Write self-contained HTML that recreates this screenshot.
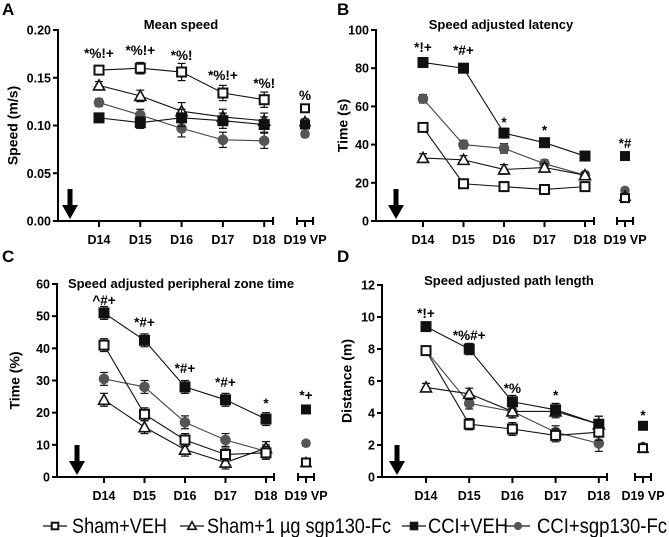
<!DOCTYPE html>
<html><head><meta charset="utf-8"><style>
html,body{margin:0;padding:0;background:#fff;}
svg{display:block;font-family:"Liberation Sans",Arial,sans-serif;}
</style></head><body>
<svg id="chart" width="669" height="537" viewBox="0 0 669 537" xmlns="http://www.w3.org/2000/svg"></svg>
<script>
// ---- data ----
const days = ["D14","D15","D16","D17","D18"];
const vpLabel = "D19 VP";
const groups = ["Sham+VEH","Sham+1 µg sgp130-Fc","CCI+VEH","CCI+sgp130-Fc"];
// Panel A mean speed (m/s): 5 days + D19
const aSham    = [0.158,0.160,0.156,0.134,0.127,0.118];
const aShamSgp = [0.142,0.131,0.115,0.109,0.105,0.104];
const aCci     = [0.108,0.103,0.108,0.105,0.101,0.101];
const aCciSgp  = [0.124,0.111,0.097,0.085,0.084,0.091];
const aErr     = [0.004,0.006,0.009,0.008,0.008,0.003];
const aTicks   = [0,0.05,0.10,0.15,0.20];
const aTickLabels = ["0.00","0.05","0.10","0.15","0.20"];
const aNotes   = ["*%!+","*%!+","*%!","*%!+","*%!","%"];
// Panel B latency (s)
const bSham    = [49,19.5,18,16.5,18,12];
const bShamSgp = [33,32,27,28,24,13];
const bCci     = [83,80,46,41,34,34];
const bCciSgp  = [64,40,38,30,24,16];
const bErr     = [2.2,2.2,2.5,2,1.5,1];
const bTicks   = [0,20,40,60,80,100];
const bTickLabels = ["0","20","40","60","80","100"];
const bNotes   = ["*!+","*#+","*","*","","*#"];
// Panel C peripheral zone time (%)
const cSham    = [41,19.5,11.5,7,7.5,4.5];
const cShamSgp = [24,15.5,8.5,4.5,9,4.5];
const cCci     = [51,42.5,28,24,18,21];
const cCciSgp  = [30.5,28,17,11.5,8,10.5];
const cErr     = [2,2,2,2,2,0.8];
const cTicks   = [0,10,20,30,40,50,60];
const cTickLabels = ["0","10","20","30","40","50","60"];
const cNotes   = ["^#+","*#+","*#+","*#+","*","*+"];
// Panel D path length (m)
const dSham    = [7.9,3.3,3.0,2.6,2.8,1.8];
const dShamSgp = [5.6,5.2,4.1,4.1,3.3,1.8];
const dCci     = [9.4,8.0,4.7,4.2,3.3,3.2];
const dCciSgp  = [7.9,4.6,4.1,2.8,2.1,1.9];
const dErr     = [0.25,0.35,0.4,0.4,0.5,0.15];
const dTicks   = [0,2,4,6,8,10,12];
const dTickLabels = ["0","2","4","6","8","10","12"];
const dNotes   = ["*!+","*%#+","*%","*","","*"];
const noteY = {
  A:[53,50,55,75,83,95], B:[47,50,122,130,0,143],
  C:[300,322,368,382,403,395], D:[313,335,388,395,0,415]
};

const NS="http://www.w3.org/2000/svg";
const svg=document.getElementById('chart');
function el(tag,attrs,parent,text){
  const e=document.createElementNS(NS,tag);
  for(const k in attrs) e.setAttribute(k,attrs[k]);
  if(text!==undefined) e.textContent=text;
  (parent||svg).appendChild(e);
  return e;
}

const panels=[
 {id:'A',letter:[2,15],title:"Mean speed",tx:181,ty:29,ylab:"Speed (m/s)",ylx:14,
  ax:58,top:30,bot:221,max:0.20,x0:99,dx:41.3,end:273,vx:305,arrow:70,
  ticks:aTicks,tl:aTickLabels,series:[aSham,aShamSgp,aCci,aCciSgp],err:aErr,notes:aNotes},
 {id:'B',letter:[337,15],title:"Speed adjusted latency",tx:501,ty:29,ylab:"Time (s)",ylx:344,
  ax:376,top:30,bot:221,max:100,x0:423,dx:40.5,end:594,vx:625,arrow:396,
  ticks:bTicks,tl:bTickLabels,series:[bSham,bShamSgp,bCci,bCciSgp],err:bErr,notes:bNotes},
 {id:'C',letter:[2,262],title:"Speed adjusted peripheral zone time",tx:181,ty:288,ylab:"Time (%)",ylx:16,
  ax:57,top:284,bot:477,max:60,x0:104,dx:40.5,end:274,vx:306,arrow:77,
  ticks:cTicks,tl:cTickLabels,series:[cSham,cShamSgp,cCci,cCciSgp],err:cErr,notes:cNotes},
 {id:'D',letter:[337,262],title:"Speed adjusted path length",tx:509,ty:285,ylab:"Distance (m)",ylx:348,
  ax:382,top:285,bot:477,max:12,x0:426,dx:43.2,end:607,vx:643,arrow:397,
  ticks:dTicks,tl:dTickLabels,series:[dSham,dShamSgp,dCci,dCciSgp],err:dErr,notes:dNotes},
];
const styles=[
 {shape:'sq',fill:'#fff',stroke:'#111'},
 {shape:'tri',fill:'#fff',stroke:'#111'},
 {shape:'sq',fill:'#111',stroke:'#111'},
 {shape:'ci',fill:'#555',stroke:'#555'},
];
function marker(g,s,x,y,r){
  if(s.shape==='sq') return el('rect',{x:x-r,y:y-r,width:2*r,height:2*r,fill:s.fill,stroke:s.stroke,'stroke-width':2},g);
  if(s.shape==='tri') return el('polygon',{points:`${x},${y-r-1} ${x-r-1},${y+r} ${x+r+1},${y+r}`,fill:s.fill,stroke:s.stroke,'stroke-width':1.6},g);
  return el('circle',{cx:x,cy:y,r:r+0.8,fill:s.fill},g);
}

panels.forEach(p=>{
  const g=el('g',{});
  
  
  const Y=v=>p.bot-(v/p.max)*(p.bot-p.top);
  const X=i=>i<5?p.x0+i*p.dx:p.vx;
  const lt=el('text',{x:p.letter[0],y:p.letter[1],'font-size':17,'font-weight':'bold'},g,p.id);
  
  
  const tt=el('text',{x:p.tx,y:p.ty,'font-size':13,'font-weight':'bold','text-anchor':'middle'},g,p.title);
  
  
  const yl=el('text',{x:p.ylx,y:(p.top+p.bot)/2,'font-size':14,'font-weight':'bold','text-anchor':'middle',transform:`rotate(-90 ${p.ylx} ${(p.top+p.bot)/2})`,'dominant-baseline':'middle'},g,p.ylab);
  
  
  const ya=el('line',{x1:p.ax,y1:p.top-1,x2:p.ax,y2:p.bot+1,stroke:'#000','stroke-width':2},g);
  
  
  const xa=el('line',{x1:p.ax,y1:p.bot,x2:p.end,y2:p.bot,stroke:'#000','stroke-width':2},g);
  
  
  el('line',{x1:p.end,y1:p.bot-4,x2:p.end,y2:p.bot+4,stroke:'#000','stroke-width':2},g);
  p.ticks.forEach((t,i)=>{
    el('line',{x1:p.ax-5,y1:Y(t),x2:p.ax,y2:Y(t),stroke:'#000','stroke-width':2},g);
    const tl=el('text',{x:p.ax-7,y:Y(t)+4.5,'font-size':12.5,'font-weight':'bold','text-anchor':'end'},g,p.tl[i]);
    
    
  });
  days.forEach((d,i)=>{
    el('line',{x1:X(i),y1:p.bot,x2:X(i),y2:p.bot+6,stroke:'#000','stroke-width':2},g);
    const xl=el('text',{x:X(i),y:p.bot+23,'font-size':12.5,'font-weight':'bold','text-anchor':'middle'},g,d);
    
    
  });
  el('line',{x1:p.vx-8,y1:p.bot,x2:p.vx+8,y2:p.bot,stroke:'#000','stroke-width':2},g);
  el('line',{x1:p.vx-8,y1:p.bot-4,x2:p.vx-8,y2:p.bot+4,stroke:'#000','stroke-width':2},g);
  el('line',{x1:p.vx+8,y1:p.bot-4,x2:p.vx+8,y2:p.bot+4,stroke:'#000','stroke-width':2},g);
  el('line',{x1:p.vx,y1:p.bot,x2:p.vx,y2:p.bot+6,stroke:'#000','stroke-width':2},g);
  const vl=el('text',{x:p.vx,y:p.bot+23,'font-size':12.5,'font-weight':'bold','text-anchor':'middle'},g,vpLabel);
  
  
  const ar=el('g',{},g);
  
  
  el('rect',{x:p.arrow-2.5,y:p.bot-32,width:5,height:18,fill:'#000'},ar);
  el('polygon',{points:`${p.arrow-8},${p.bot-16} ${p.arrow+8},${p.bot-16} ${p.arrow},${p.bot-2}`,fill:'#000'},ar);
  [3,1,2,0].forEach(si=>{
    const vals=p.series[si], s=styles[si];
    const sg=el('g',{},g);
    
    
    let pts=[];
    for(let i=0;i<5;i++) pts.push(X(i)+','+Y(vals[i]));
    el('polyline',{points:pts.join(' '),fill:'none',stroke:si===3?'#444':'#111','stroke-width':1.1},sg);
    vals.forEach((v,i)=>{
      const e=p.err[i];
      el('line',{x1:X(i),y1:Y(v+e),x2:X(i),y2:Y(v-e),stroke:'#111','stroke-width':1.2},sg);
      el('line',{x1:X(i)-4,y1:Y(v+e),x2:X(i)+4,y2:Y(v+e),stroke:'#111','stroke-width':1.2},sg);
      el('line',{x1:X(i)-4,y1:Y(v-e),x2:X(i)+4,y2:Y(v-e),stroke:'#111','stroke-width':1.2},sg);
      const m=marker(sg,s,X(i),Y(v),i<5?4.5:4);
      
      
    });
  });
  p.notes.forEach((n,i)=>{
    if(!n) return;
    const t=el('text',{x:X(i),y:noteY[p.id][i]+5,'font-size':13.5,'font-weight':'bold','text-anchor':'middle'},g,n);
    
    
  });
});

const leg=el('g',{});


const legX=[[43,72,95],[180,207,184],[402,428,80],[506,537,130]];
groups.forEach((gname,i)=>{
  const e=el('g',{},leg);
  
  
  const [mx,tx,tw]=legX[i];
  el('line',{x1:mx,y1:526,x2:mx+24,y2:526,stroke:'#111','stroke-width':1.2},e);
  marker(e,styles[i],mx+12,526,3.3);
  el('text',{x:tx,y:533,'font-size':21,textLength:tw,lengthAdjust:'spacingAndGlyphs'},e,gname);
});
</script>
</body></html>
